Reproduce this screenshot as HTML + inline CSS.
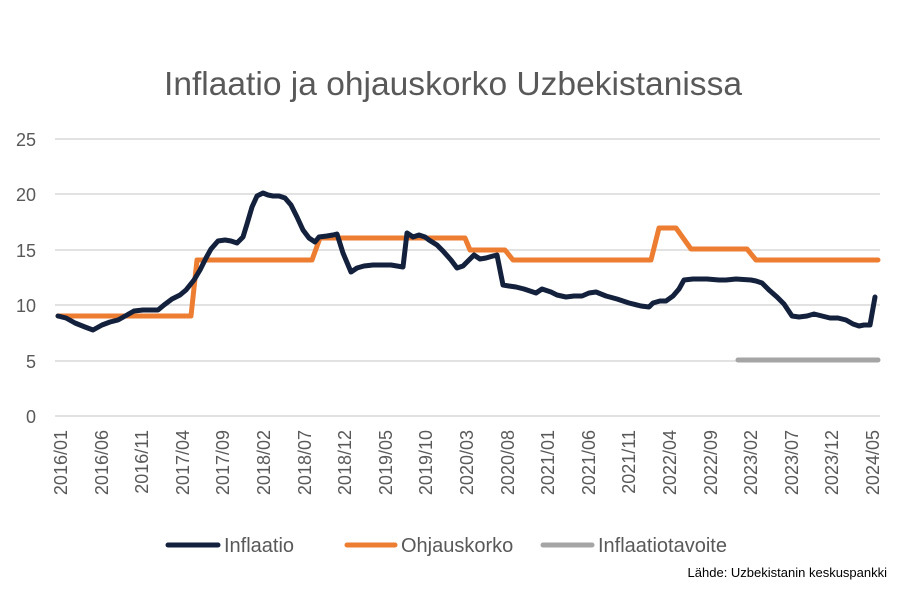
<!DOCTYPE html>
<html><head><meta charset="utf-8"><style>body{margin:0;background:#fff}svg{display:block}</style></head>
<body>
<svg width="900" height="600" xmlns="http://www.w3.org/2000/svg" font-family="Liberation Sans, sans-serif">
<rect width="900" height="600" fill="#fff"/>
<text x="453" y="95" text-anchor="middle" font-size="33" fill="#595959" textLength="578" lengthAdjust="spacingAndGlyphs">Inflaatio ja ohjauskorko Uzbekistanissa</text>
<g stroke="#d9d9d9" stroke-width="1.5">
<line x1="55" x2="880" y1="139" y2="139"/><line x1="55" x2="880" y1="194" y2="194"/><line x1="55" x2="880" y1="250" y2="250"/><line x1="55" x2="880" y1="305" y2="305"/><line x1="55" x2="880" y1="361" y2="361"/><line x1="55" x2="880" y1="416" y2="416"/>
</g>
<g font-size="18" fill="#595959" text-anchor="end">
<text x="36" y="146">25</text><text x="36" y="201">20</text><text x="36" y="257">15</text><text x="36" y="312">10</text><text x="36" y="368">5</text><text x="36" y="423">0</text>
</g>
<g font-size="18" fill="#595959" text-anchor="end">
<text transform="translate(67,430) rotate(-90)">2016/01</text>
<text transform="translate(108,430) rotate(-90)">2016/06</text>
<text transform="translate(148,430) rotate(-90)">2016/11</text>
<text transform="translate(189,430) rotate(-90)">2017/04</text>
<text transform="translate(229,430) rotate(-90)">2017/09</text>
<text transform="translate(270,430) rotate(-90)">2018/02</text>
<text transform="translate(311,430) rotate(-90)">2018/07</text>
<text transform="translate(351,430) rotate(-90)">2018/12</text>
<text transform="translate(392,430) rotate(-90)">2019/05</text>
<text transform="translate(432,430) rotate(-90)">2019/10</text>
<text transform="translate(473,430) rotate(-90)">2020/03</text>
<text transform="translate(514,430) rotate(-90)">2020/08</text>
<text transform="translate(554,430) rotate(-90)">2021/01</text>
<text transform="translate(595,430) rotate(-90)">2021/06</text>
<text transform="translate(635,430) rotate(-90)">2021/11</text>
<text transform="translate(676,430) rotate(-90)">2022/04</text>
<text transform="translate(717,430) rotate(-90)">2022/09</text>
<text transform="translate(757,430) rotate(-90)">2023/02</text>
<text transform="translate(798,430) rotate(-90)">2023/07</text>
<text transform="translate(838,430) rotate(-90)">2023/12</text>
<text transform="translate(879,430) rotate(-90)">2024/05</text>
</g>
<line x1="738" y1="360" x2="878" y2="360" stroke="#a5a5a5" stroke-width="5" stroke-linecap="round"/>
<polyline fill="none" stroke="#ed7d31" stroke-width="5" stroke-linejoin="round" stroke-linecap="round" points="58,316 191,316 197,260 312,260 320,238 465,238 470,250 505,250 513,260 651,260 659,228 676,228 691,249 747,249 756,260 878,260"/>
<polyline fill="none" stroke="#14213d" stroke-width="5" stroke-linejoin="round" stroke-linecap="round" points="58,316 66,318 75,323 85,327 93,330 102,325 110,322 118,320 127,315 134,311 143,310 152,310 158,310 164,305 172,299 180,295 186,290 194,280 200,270 206,258 211,249 218,241 225,240 231,241 237,243 243,237 247,224 252,207 257,196 263,193 268,195 273,196 279,196 285,198 291,205 297,217 303,230 309,238 315,242 319,237 327,236 333,235 337,234 343,253 351,272 357,268 364,266 373,265 383,265 391,265 397,266 403,267 407,233 413,237 419,235 425,237 429,240 437,245 443,251 451,260 457,268 463,266 469,260 474,255 480,259 486,258 493,256 497,255 503,285 509,286 516,287 524,289 536,293 542,289 551,292 557,295 566,297 574,296 582,296 589,293 596,292 606,296 617,299 629,303 641,306 649,307 653,303 660,301 666,301 673,296 679,289 684,280 693,279 707,279 719,280 726,280 736,279 751,280 756,281 762,283 769,290 777,297 784,304 792,316 799,317 807,316 814,314 822,316 830,318 838,318 846,320 853,324 859,326 864,325 870,325 875,297"/>
<g font-size="20" fill="#595959">
<line x1="168" y1="545" x2="218" y2="545" stroke="#14213d" stroke-width="5" stroke-linecap="round"/>
<text x="224" y="552">Inflaatio</text>
<line x1="347" y1="545" x2="395" y2="545" stroke="#ed7d31" stroke-width="5" stroke-linecap="round"/>
<text x="401" y="552">Ohjauskorko</text>
<line x1="543" y1="545" x2="592" y2="545" stroke="#a5a5a5" stroke-width="5" stroke-linecap="round"/>
<text x="598" y="552">Inflaatiotavoite</text>
</g>
<text x="887" y="577" text-anchor="end" font-size="13" fill="#000">Lähde: Uzbekistanin keskuspankki</text>
</svg>
</body></html>
